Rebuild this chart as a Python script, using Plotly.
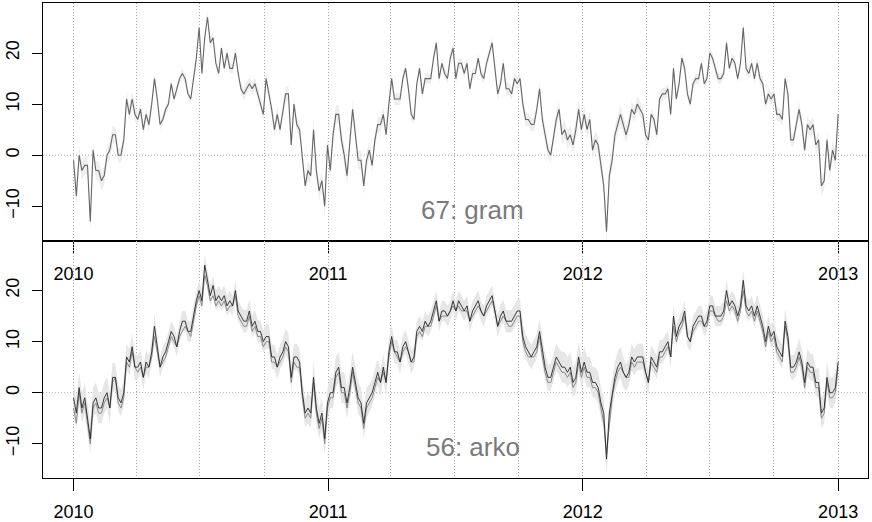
import pandas as pd
import plotly.graph_objects as go
from plotly.subplots import make_subplots

# daily temperatures, read every 4 days from the figure
start_date = "2010-01-01"
step = "4D"

gram = [
    -1, -8, 0, -3, -2, -2, -13, 1, -3, -3,
    -5, -4, 0, 1, 4, 4, 0, 0, 3, 11,
    8, 11, 8, 7, 9, 5, 8, 6, 10, 15,
    11, 6, 7, 9, 10, 14, 11, 13, 15, 16,
    15, 12, 11, 15, 19, 25, 16, 23, 27, 22,
    23, 18, 16, 21, 17, 20, 17, 17, 20, 16,
    13, 12, 13, 14, 13, 14, 12, 10, 8, 15,
    12, 9, 5, 8, 5, 9, 12, 12, 2, 10,
    6, 5, 0, -6, -3, -4, 5, -3, -7, -5,
    -10, 2, -3, 4, 8, 8, 3, 0, -4, 2,
    9, 4, -1, -1, -6, -1, 1, -2, 3, 6,
    6, 8, 4, 10, 15, 11, 11, 11, 15, 17,
    13, 8, 7, 14, 17, 12, 15, 15, 15, 19,
    22, 15, 18, 16, 15, 19, 21, 15, 18, 18,
    16, 18, 13, 16, 16, 19, 16, 15, 18, 20,
    22, 17, 12, 14, 18, 13, 13, 12, 15, 14,
    15, 10, 7, 7, 6, 6, 9, 13, 7, 4,
    1, 0, 4, 7, 9, 4, 5, 3, 4, 2,
    5, 9, 5, 8, 5, 7, 1, 3, 2, -2,
    -6, -15, -4, -1, 4, 6, 8, 6, 4, 6,
    9, 8, 10, 9, 8, 4, 3, 8, 7, 4,
    11, 12, 12, 13, 8, 17, 11, 14, 19, 17,
    12, 10, 14, 15, 15, 18, 14, 15, 20, 19,
    17, 15, 15, 16, 22, 17, 19, 18, 15, 18,
    25, 17, 16, 18, 15, 18, 15, 14, 10, 12,
    11, 12, 8, 8, 7, 15, 12, 3, 3, 6,
    9, 6, 1, 6, 5, 6, 2, 3, -6, -5,
    3, -3, 1, -1, 8,
]

arko_obs = [
    -1, -4, 1, -3, -1, -5, -9, -2, -1, -3,
    -3, -1, 0, -3, 3, 3, -1, -2, 0, 7,
    6, 9, 5, 5, 6, 3, 6, 5, 8, 13,
    9, 5, 7, 8, 10, 12, 11, 9, 12, 14,
    14, 12, 12, 15, 18, 20, 18, 25, 22, 19,
    21, 18, 19, 18, 19, 17, 18, 17, 20, 16,
    15, 14, 14, 16, 13, 14, 12, 12, 10, 11,
    11, 7, 7, 5, 7, 8, 10, 9, 3, 7,
    7, 6, 0, -4, -3, -4, 3, -3, -6, -4,
    -9, -2, 0, 0, 4, 5, 1, 1, -2, 1,
    5, 2, -1, -2, -6, -2, -1, 0, 2, 4,
    2, 5, 2, 8, 11, 8, 8, 6, 9, 10,
    8, 6, 7, 12, 13, 12, 14, 13, 14, 16,
    18, 14, 16, 16, 15, 16, 18, 16, 18, 17,
    16, 17, 14, 16, 17, 18, 16, 15, 17, 18,
    19, 16, 13, 15, 16, 14, 14, 14, 15, 16,
    16, 11, 9, 8, 7, 8, 9, 12, 8, 5,
    3, 3, 5, 7, 6, 5, 5, 4, 5, 2,
    3, 7, 4, 6, 4, 4, 2, 2, 1, -2,
    -4, -13, -4, 0, 3, 5, 6, 4, 3, 4,
    7, 6, 7, 7, 7, 4, 2, 7, 6, 5,
    8, 8, 9, 10, 7, 15, 11, 13, 14, 16,
    11, 10, 13, 14, 15, 15, 13, 14, 17, 17,
    15, 15, 15, 16, 20, 17, 18, 17, 15, 17,
    22, 17, 16, 17, 15, 17, 15, 13, 10, 13,
    11, 12, 9, 8, 7, 14, 11, 5, 5, 6,
    8, 6, 2, 6, 5, 5, 2, 2, -4, -3,
    3, 0, 0, 1, 6,
]

arko_mod = [
    -3, -6, 0, -4, -2, -6, -10, -3, -2, -4,
    -4, -2, -1, -3, 2, 3, -2, -3, -1, 6,
    5, 8, 5, 4, 5, 3, 5, 5, 7, 11,
    8, 5, 6, 7, 9, 11, 10, 9, 11, 12,
    13, 12, 11, 14, 17, 19, 17, 23, 21, 18,
    19, 17, 18, 17, 18, 16, 17, 17, 19, 15,
    14, 13, 13, 15, 12, 13, 11, 11, 9, 10,
    10, 6, 6, 5, 6, 7, 9, 8, 2, 6,
    5, 5, -1, -5, -4, -5, 2, -4, -7, -5,
    -10, -3, -1, -1, 3, 4, 0, 0, -3, 0,
    4, 1, -2, -3, -7, -3, -2, -1, 1, 3,
    2, 4, 2, 7, 10, 8, 7, 6, 8, 9,
    8, 6, 6, 11, 12, 11, 13, 13, 13, 15,
    17, 14, 15, 15, 15, 16, 17, 16, 17, 16,
    16, 16, 14, 15, 16, 17, 16, 15, 16, 17,
    18, 16, 13, 14, 15, 14, 13, 13, 14, 15,
    15, 10, 8, 7, 7, 7, 8, 11, 7, 4,
    2, 2, 4, 6, 5, 4, 4, 3, 4, 1,
    2, 6, 3, 5, 3, 3, 1, 1, 0, -3,
    -6, -12, -6, -1, 2, 4, 5, 4, 3, 3,
    6, 5, 6, 6, 6, 4, 2, 6, 5, 4,
    7, 7, 8, 9, 7, 13, 10, 12, 13, 15,
    11, 10, 12, 13, 14, 14, 13, 13, 16, 16,
    15, 14, 14, 15, 18, 16, 17, 16, 14, 16,
    20, 16, 15, 16, 14, 16, 14, 12, 9, 12,
    10, 11, 8, 7, 6, 13, 10, 4, 4, 5,
    7, 5, 1, 5, 4, 4, 1, 1, -5, -4,
    2, -1, -1, 0, 5,
]

# half width of the grey band, by calendar month
gram_spread = [1.8, 1.8, 1.5, 1.2, 1.0, 1.0, 1.0, 1.0, 1.2, 1.3, 1.5, 1.8]
arko_spread = [3.0, 3.0, 2.6, 2.3, 2.0, 2.0, 2.0, 2.0, 2.2, 2.4, 2.6, 3.0]

year_ticks = ["2010-01-01", "2011-01-01", "2012-01-01", "2013-01-01"]
year_labels = ["2010", "2011", "2012", "2013"]
y_ticks = [-10, 0, 10, 20]

GRID = "#a8a8a8"
DOT = "1px,2px"
FONT = "Liberation Sans, Arial, sans-serif"


def band(fig, vals, spread, color, row):
    d = pd.date_range(start_date, periods=len(vals), freq=step)
    lo = [v - spread[t.month - 1] for v, t in zip(vals, d)]
    hi = [v + spread[t.month - 1] for v, t in zip(vals, d)]
    fig.add_trace(go.Scatter(x=d, y=lo, mode="lines", line=dict(width=0),
                             hoverinfo="skip"), row=row, col=1)
    fig.add_trace(go.Scatter(x=d, y=hi, mode="lines", line=dict(width=0),
                             fill="tonexty", fillcolor=color,
                             hoverinfo="skip"), row=row, col=1)


def line(fig, vals, color, width, row):
    d = pd.date_range(start_date, periods=len(vals), freq=step)
    fig.add_trace(go.Scatter(x=d, y=vals, mode="lines",
                             line=dict(color=color, width=width)), row=row, col=1)


fig = make_subplots(rows=2, cols=1, vertical_spacing=0)

band(fig, gram, gram_spread, "#eeeeee", 1)
line(fig, gram, "#666666", 1.1, 1)

band(fig, arko_obs, arko_spread, "#e6e6e6", 2)
line(fig, arko_mod, "#8a8a8a", 1.0, 2)
line(fig, arko_obs, "#262626", 0.9, 2)

x_range = ["2009-11-18 04:48", "2013-02-12 19:12"]
for r in (1, 2):
    fig.update_xaxes(
        type="date", range=x_range, automargin=False,
        tickvals=year_ticks, ticktext=year_labels,
        ticks="outside", ticklen=12, tickcolor="black", tickwidth=1,
        ticklabelstandoff=5,
        tickfont=dict(size=18, color="black", family=FONT),
        showline=True, mirror=True, linecolor="black", linewidth=1,
        showgrid=True, griddash=DOT, gridcolor=GRID, gridwidth=1,
        minor=dict(dtick="M3", tick0="2010-01-01", showgrid=True,
                   griddash=DOT, gridcolor=GRID, gridwidth=1, ticks=""),
        zeroline=False, row=r, col=1)
    fig.update_yaxes(
        range=[-16.7, 29.8], tickvals=y_ticks, automargin=False,
        ticks="outside", ticklen=10, tickcolor="black", tickwidth=1,
        tickangle=-90, ticklabelstandoff=6,
        tickfont=dict(size=18, color="black", family=FONT),
        showline=True, mirror=True, linecolor="black", linewidth=1,
        showgrid=False, zeroline=False, row=r, col=1)

for xr, yr in (("x", "y"), ("x2", "y2")):
    fig.add_shape(type="line", xref=xr + " domain", yref=yr, x0=0, x1=1,
                  y0=0, y1=0, layer="below",
                  line=dict(color=GRID, width=1, dash=DOT))

fig.add_annotation(x="2011-07-27", y=-10.8, xref="x", yref="y",
                   text="67: gram", showarrow=False,
                   font=dict(size=26, color="#7a7a7a", family=FONT))
fig.add_annotation(x="2011-07-27", y=-10.6, xref="x2", yref="y2",
                   text="56: arko", showarrow=False,
                   font=dict(size=26, color="#7a7a7a", family=FONT))

fig.update_layout(
    width=872, height=522,
    margin=dict(l=43, r=4, t=3, b=44),
    plot_bgcolor="white", paper_bgcolor="white",
    showlegend=False,
    font=dict(family=FONT, color="black"),
)

# the page body has a default margin; drop it so the figure sits at 0,0
fig.write_html("out.html", config={"displayModeBar": False},
               post_script="document.body.style.margin='0';")
